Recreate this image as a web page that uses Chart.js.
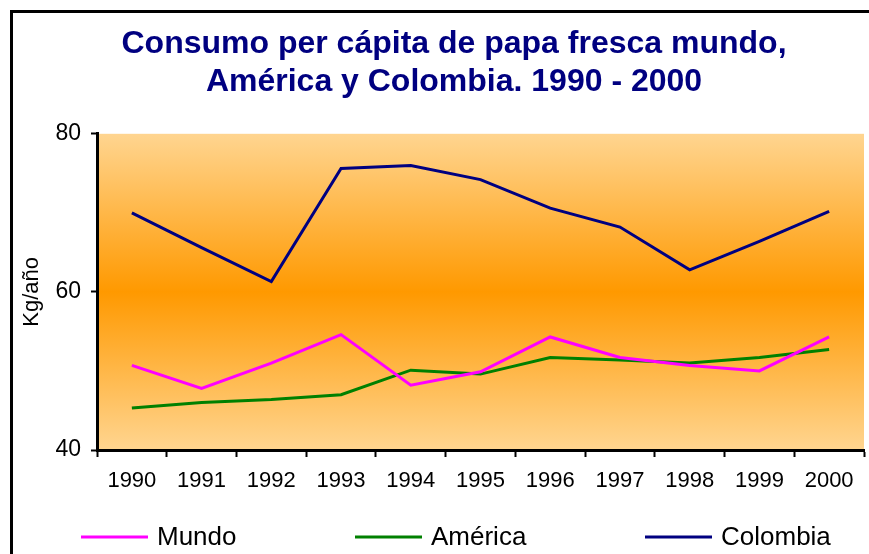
<!DOCTYPE html>
<html>
<head>
<meta charset="utf-8">
<script src="https://cdn.jsdelivr.net/npm/chart.js@4.4.0/dist/chart.umd.min.js"></script>
<style>
  html, body { margin: 0; padding: 0; background: #fff; overflow: hidden; }
  #wrap { width: 869px; height: 554px; position: relative; }
</style>
</head>
<body>
<div id="wrap"><canvas id="chart" width="869" height="554"></canvas></div>
<script>
// datos (kg/año)
const years = ['1990', '1991', '1992', '1993', '1994', '1995', '1996', '1997', '1998', '1999', '2000'];
const mundo = [50.7, 47.8, 51.0, 54.6, 48.2, 49.9, 54.3, 51.7, 50.7, 50.0, 54.3];
const america = [45.3, 46.0, 46.4, 47.0, 50.1, 49.6, 51.7, 51.4, 51.0, 51.7, 52.7];
const colombia = [70.0, 65.6, 61.3, 75.6, 76.0, 74.2, 70.6, 68.2, 62.8, 66.4, 70.2];
const yTicks = [40, 60, 80];
const yTitle = 'Kg/año';

const FONT = 'Arial, "Liberation Sans", sans-serif';

// fondo blanco, marco negro y degradado del área de trazado
const backgroundPlugin = {
    id: 'background',
    beforeDraw(chart) {
        const { ctx, chartArea } = chart;
        ctx.save();
        ctx.fillStyle = '#fff';
        ctx.fillRect(0, 0, chart.width, chart.height);
        ctx.strokeStyle = '#000';
        ctx.lineWidth = 3;
        ctx.beginPath();
        ctx.moveTo(11.5, chart.height + 5);
        ctx.lineTo(11.5, 11.5);
        ctx.lineTo(chart.width + 5, 11.5);
        ctx.stroke();
        if (chartArea) {
            const g = ctx.createLinearGradient(0, chartArea.top, 0, chartArea.bottom);
            g.addColorStop(0, '#FFD590');
            g.addColorStop(0.5, '#FF9900');
            g.addColorStop(1, '#FFD590');
            ctx.fillStyle = g;
            ctx.fillRect(chartArea.left, chartArea.top, chartArea.right - chartArea.left, chartArea.bottom - chartArea.top);
        }
        ctx.restore();
    }
};

// título del eje Y, más a la izquierda de lo que deja la escala
const yTitlePlugin = {
    id: 'yTitle',
    afterDraw(chart) {
        const { ctx, chartArea } = chart;
        ctx.save();
        ctx.translate(32, (chartArea.top + chartArea.bottom) / 2);
        ctx.rotate(-Math.PI / 2);
        ctx.font = `22px ${FONT}`;
        ctx.fillStyle = '#000';
        ctx.textAlign = 'center';
        ctx.textBaseline = 'middle';
        ctx.fillText(yTitle, 0, 0);
        ctx.restore();
    }
};

// leyenda propia, con los elementos bien separados como en el original
const legendX = [81, 355, 645];
const legendPlugin = {
    id: 'wideLegend',
    afterDraw(chart) {
        const { ctx } = chart;
        const y = 537;
        ctx.save();
        ctx.font = `26px ${FONT}`;
        ctx.textBaseline = 'middle';
        ctx.textAlign = 'left';
        chart.data.datasets.forEach((ds, i) => {
            const x = legendX[i];
            ctx.strokeStyle = ds.borderColor;
            ctx.lineWidth = 3;
            ctx.beginPath();
            ctx.moveTo(x, y);
            ctx.lineTo(x + 67, y);
            ctx.stroke();
            ctx.fillStyle = '#000';
            ctx.fillText(ds.label, x + 76, y + 1);
        });
        ctx.restore();
    }
};

new Chart(document.getElementById('chart'), {
    type: 'line',
    data: {
        labels: years,
        datasets: [
            { label: 'Mundo', data: mundo, borderColor: '#FF00FF' },
            { label: 'América', data: america, borderColor: '#008000' },
            { label: 'Colombia', data: colombia, borderColor: '#000080' },
        ]
    },
    options: {
        responsive: false,
        animation: false,
        devicePixelRatio: 1,
        elements: {
            line: { borderWidth: 3, tension: 0 },
            point: { radius: 0, hoverRadius: 0 }
        },
        // el relleno izquierdo desplaza el título a la derecha como en el original
        layout: { padding: { left: 44, right: 5, top: 0, bottom: 54 } },
        plugins: {
            legend: { display: false },
            tooltip: { enabled: false },
            title: {
                display: true,
                text: ['Consumo per cápita de papa fresca mundo,', 'América y Colombia. 1990 - 2000'],
                color: '#000080',
                font: { family: FONT, size: 32, weight: 'bold', lineHeight: 1.2 },
                padding: { top: 25, bottom: 32 }
            }
        },
        scales: {
            x: {
                type: 'category',
                offset: true,
                grid: {
                    display: true,
                    drawOnChartArea: false,
                    drawTicks: true,
                    tickLength: 7,
                    tickWidth: 2,
                    tickColor: '#000',
                    offset: true
                },
                border: { display: true, color: '#000', width: 3 },
                ticks: {
                    color: '#000',
                    font: { family: FONT, size: 22 },
                    padding: 11,
                    maxRotation: 0,
                    autoSkip: false
                },
                afterFit(scale) { scale.height = 50; }
            },
            y: {
                min: 40,
                max: 80,
                afterBuildTicks(scale) { scale.ticks = yTicks.map(v => ({ value: v })); },
                grid: {
                    display: true,
                    drawOnChartArea: false,
                    drawTicks: true,
                    tickLength: 6,
                    tickWidth: 2,
                    tickColor: '#000'
                },
                border: { display: true, color: '#000', width: 3 },
                ticks: {
                    color: '#000',
                    font: { family: FONT, size: 23 },
                    padding: 10
                },
                afterFit(scale) { scale.width = 53; }
            }
        }
    },
    plugins: [backgroundPlugin, yTitlePlugin, legendPlugin]
});
</script>
</body>
</html>
